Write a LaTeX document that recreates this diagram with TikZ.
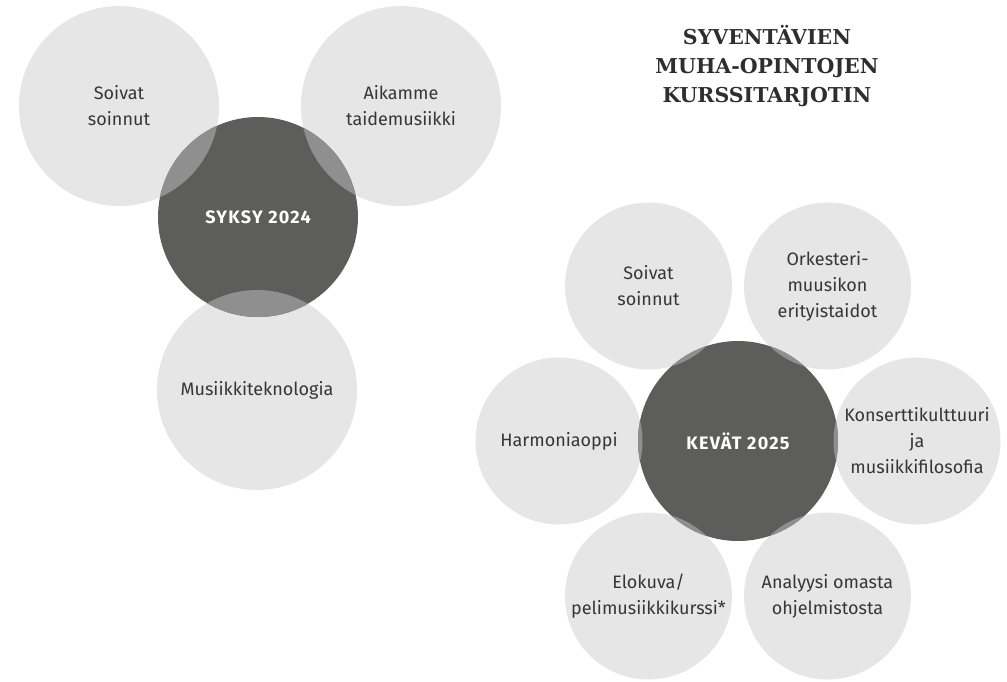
\documentclass[tikz,border=0pt]{standalone}
\usepackage{fontspec}
\setmainfont{Fira Sans}
\newfontfamily\headfont{DejaVu Serif}
\newfontfamily\corefont{Fira Sans}[LetterSpace=7]
\definecolor{bubblegray}{HTML}{E6E6E6}
\definecolor{coregray}{HTML}{5D5D5C}
\definecolor{lensgray}{HTML}{8F8F8F}
\definecolor{ink}{HTML}{363636}
\tikzset{
  bubble/.style={circle, fill=bubblegray, minimum size=200pt, inner sep=0pt, align=center, text=ink, font=\fontsize{18}{26}\selectfont},
  smallbubble/.style={bubble, minimum size=167pt},
  core/.style={circle, fill=coregray, minimum size=200pt, inner sep=0pt, text=white, font=\corefont\bfseries\fontsize{18}{20}\selectfont},
  lens/.style={fill=lensgray},
  heading/.style={align=center, text=ink!85!black, font=\headfont\bfseries\fontsize{20.5}{29}\selectfont}
}
\begin{document}
\begin{tikzpicture}[x=1pt,y=-1pt]
	\useasboundingbox (0,0) rectangle (1007,681);
	% Syksy 2024
	\node[bubble] (soivatA) at (119,106) {Soivat\\soinnut};
	\node[bubble] (aikamme) at (401,106) {Aikamme\\taidemusiikki};
	\node[bubble] (musiikki) at (257,390) {Musiikkiteknologia};
	\node[core] (syksy) at (258,217) {SYKSY 2024};
	\begin{scope}
		\clip (syksy.center) circle[radius=100pt];
		\fill[lens] (soivatA.center) circle[radius=100pt];
		\fill[lens] (aikamme.center) circle[radius=100pt];
		\fill[lens] (musiikki.center) circle[radius=100pt];
	\end{scope}
	% Kevat 2025
	\node[smallbubble] (soivatB) at (648.5,286) {Soivat\\soinnut};
	\node[smallbubble] (orkesteri) at (827.5,286) {Orkesteri-\\muusikon\\erityistaidot};
	\node[smallbubble] (harmonia) at (559,441) {Harmoniaoppi};
	\node[smallbubble] (konsertti) at (917,441) {Konserttikulttuuri\\ja\\musiikkifilosofia};
	\node[smallbubble] (elokuva) at (648.5,596) {Elokuva/\\pelimusiikkikurssi*};
	\node[smallbubble] (analyysi) at (827.5,596) {Analyysi omasta\\ohjelmistosta};
	\node[core] (kevat) at (738,441) {KEVÄT 2025};
	\begin{scope}
		\clip (kevat.center) circle[radius=100pt];
		\foreach \n in {soivatB,orkesteri,harmonia,konsertti,elokuva,analyysi}
			\fill[lens] (\n.center) circle[radius=83.5pt];
	\end{scope}
	% Otsikko
	\node[heading] (otsikko) at (767,66) {SYVENTÄVIEN\\MUHA-OPINTOJEN\\KURSSITARJOTIN};
\end{tikzpicture}
\end{document}
